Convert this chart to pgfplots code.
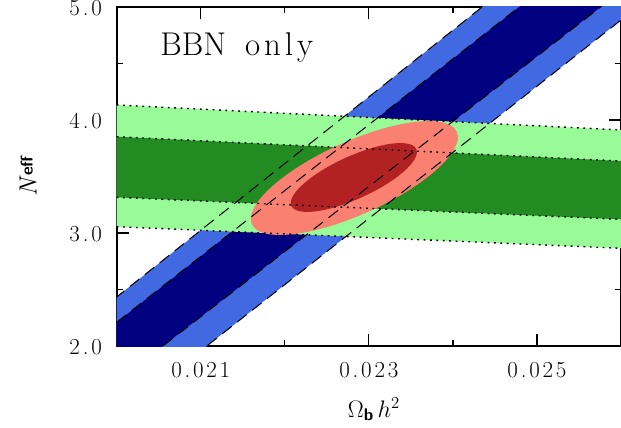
\RequirePackage{fix-cm}
\documentclass[border=0pt]{standalone}
\usepackage{fontspec}
\usepackage{pgfplots}
\pgfplotsset{compat=1.18}
\definecolor{lblue}{RGB}{65,105,225}
\definecolor{dblue}{RGB}{0,0,128}
\definecolor{lgreen}{RGB}{152,251,152}
\definecolor{dgreen}{RGB}{34,139,34}
\definecolor{salmonc}{RGB}{250,128,114}
\definecolor{fireb}{RGB}{178,34,34}
\newcommand{\tk}{\kern2.8bp}
\newcommand{\tl}[1]{\mbox{\fontsize{23}{23}\selectfont #1}}
\begin{document}
\begin{tikzpicture}
\begin{axis}[
  name=ax,
  scale only axis,
  width=504.3bp, height=339bp,
  xmin=0.020, xmax=0.026, ymin=2.0, ymax=5.0,
  scaled x ticks=false,
  xtick={0.021,0.023,0.025},
  xticklabels={\tl{0\tk.\tk0\tk2\tk1},\tl{0\tk.\tk0\tk2\tk3},\tl{0\tk.\tk0\tk2\tk5}},
  minor xtick={0.020,0.022,0.024,0.026},
  ytick={2,3,4,5},
  yticklabels={\tl{2\tk.\tk0},\tl{3\tk.\tk0},\tl{4\tk.\tk0},\tl{5\tk.\tk0}},
  minor ytick={2.5,3.5,4.5},
  tick align=inside,
  major tick length=12bp,
  minor tick length=6bp,
  every tick/.style={black, line width=1.2bp},
  axis line style={line width=1.8bp},
  ticklabel style={inner sep=0pt},
  xticklabel style={anchor=north, yshift=-16bp},
  yticklabel style={anchor=east, xshift=-14.7bp, yshift=-1.5bp},
  xlabel={\mbox{\fontsize{24}{24}\selectfont$\Omega_{\mbox{\fontsize{17}{17}\selectfont\sffamily\bfseries b}}\,h^{2}$}},
  xlabel style={at={(axis description cs:0.5,0)}, anchor=base, yshift=-71bp, xshift=5bp, inner sep=0pt},
  ylabel={\mbox{\fontsize{25}{25}\selectfont\textit{N}\raisebox{4bp}{\fontsize{17}{17}\selectfont\sffamily\bfseries eff}}},
  ylabel style={at={(axis description cs:-0.1586,0.5)}, anchor=base, inner sep=0pt},
  clip=true,
]
% blue bands (diagonal)
\addplot[fill=lblue, draw=none] coordinates {(0.019095,1.9) (0.024517,5.1) (0.026368,5.1) (0.020901,1.9)} -- cycle;
\addplot[fill=dblue, draw=none] coordinates {(0.019468,1.9) (0.024959,5.1) (0.025931,5.1) (0.020376,1.9)} -- cycle;
% green bands (horizontal)
\addplot[fill=lgreen, draw=none] coordinates {(0.020,4.133) (0.026,3.912) (0.026,2.865) (0.020,3.056)} -- cycle;
\addplot[fill=dgreen, draw=none] coordinates {(0.020,3.852) (0.026,3.637) (0.026,3.121) (0.020,3.316)} -- cycle;
% combined contours
\addplot[fill=salmonc, draw=none, smooth cycle, tension=0.6] coordinates {
(0.0240469,3.8960) (0.0240517,3.8058) (0.0239729,3.6939) (0.0238162,3.5679)
(0.0235920,3.4364) (0.0233157,3.3082) (0.0230062,3.1923) (0.0226845,3.0963)
(0.0223725,3.0271) (0.0220914,2.9891) (0.0218607,2.9850) (0.0216957,3.0152)
(0.0216079,3.0774) (0.0216031,3.1676) (0.0216819,3.2795) (0.0218386,3.4055)
(0.0220628,3.5370) (0.0223391,3.6652) (0.0226486,3.7811) (0.0229703,3.8771)
(0.0232823,3.9463) (0.0235634,3.9843) (0.0237941,3.9884) (0.0239591,3.9582)};
\addplot[fill=fireb, draw=none, smooth cycle, tension=0.6] coordinates {
(0.0235646,3.7430) (0.0235665,3.6900) (0.0235176,3.6235) (0.0234212,3.5480)
(0.0232841,3.4686) (0.0231153,3.3907) (0.0229265,3.3197) (0.0227306,3.2604)
(0.0225408,3.2168) (0.0223702,3.1919) (0.0222304,3.1874) (0.0221308,3.2036)
(0.0220782,3.2394) (0.0220763,3.2924) (0.0221252,3.3589) (0.0222216,3.4344)
(0.0223587,3.5138) (0.0225275,3.5917) (0.0227163,3.6627) (0.0229122,3.7220)
(0.0231020,3.7656) (0.0232726,3.7905) (0.0234124,3.7950) (0.0235120,3.7788)};
% dashed edges of the blue bands
\addplot[black, line width=1bp, dash pattern=on 12bp off 7bp] coordinates {(0.019095,1.9) (0.024517,5.1)};
\addplot[black, line width=1bp, dash pattern=on 12bp off 7bp] coordinates {(0.019468,1.9) (0.024959,5.1)};
\addplot[black, line width=1bp, dash pattern=on 12bp off 7bp] coordinates {(0.020376,1.9) (0.025931,5.1)};
\addplot[black, line width=1bp, dash pattern=on 12bp off 7bp] coordinates {(0.020901,1.9) (0.026368,5.1)};
% dotted edges of the green bands
\addplot[black, line width=1.4bp, dash pattern=on 1.8bp off 4.6bp] coordinates {(0.020,4.133) (0.026,3.912)};
\addplot[black, line width=1.4bp, dash pattern=on 1.8bp off 4.6bp] coordinates {(0.020,3.852) (0.026,3.637)};
\addplot[black, line width=1.4bp, dash pattern=on 1.8bp off 4.6bp] coordinates {(0.020,3.316) (0.026,3.121)};
\addplot[black, line width=1.4bp, dash pattern=on 1.8bp off 4.6bp] coordinates {(0.020,3.056) (0.026,2.865)};
\node[anchor=base west, inner sep=0pt, font=\fontsize{33}{33}\selectfont] at (rel axis cs:0.086,0.858) {BBN\hspace{19bp}o\kern4bp n\kern4bp l\kern4bp y};
\end{axis}
\pgfresetboundingbox
\path ([xshift=-116.7bp,yshift=-81bp]ax.south west) rectangle ([yshift=7bp]ax.north east);
\end{tikzpicture}
\end{document}
